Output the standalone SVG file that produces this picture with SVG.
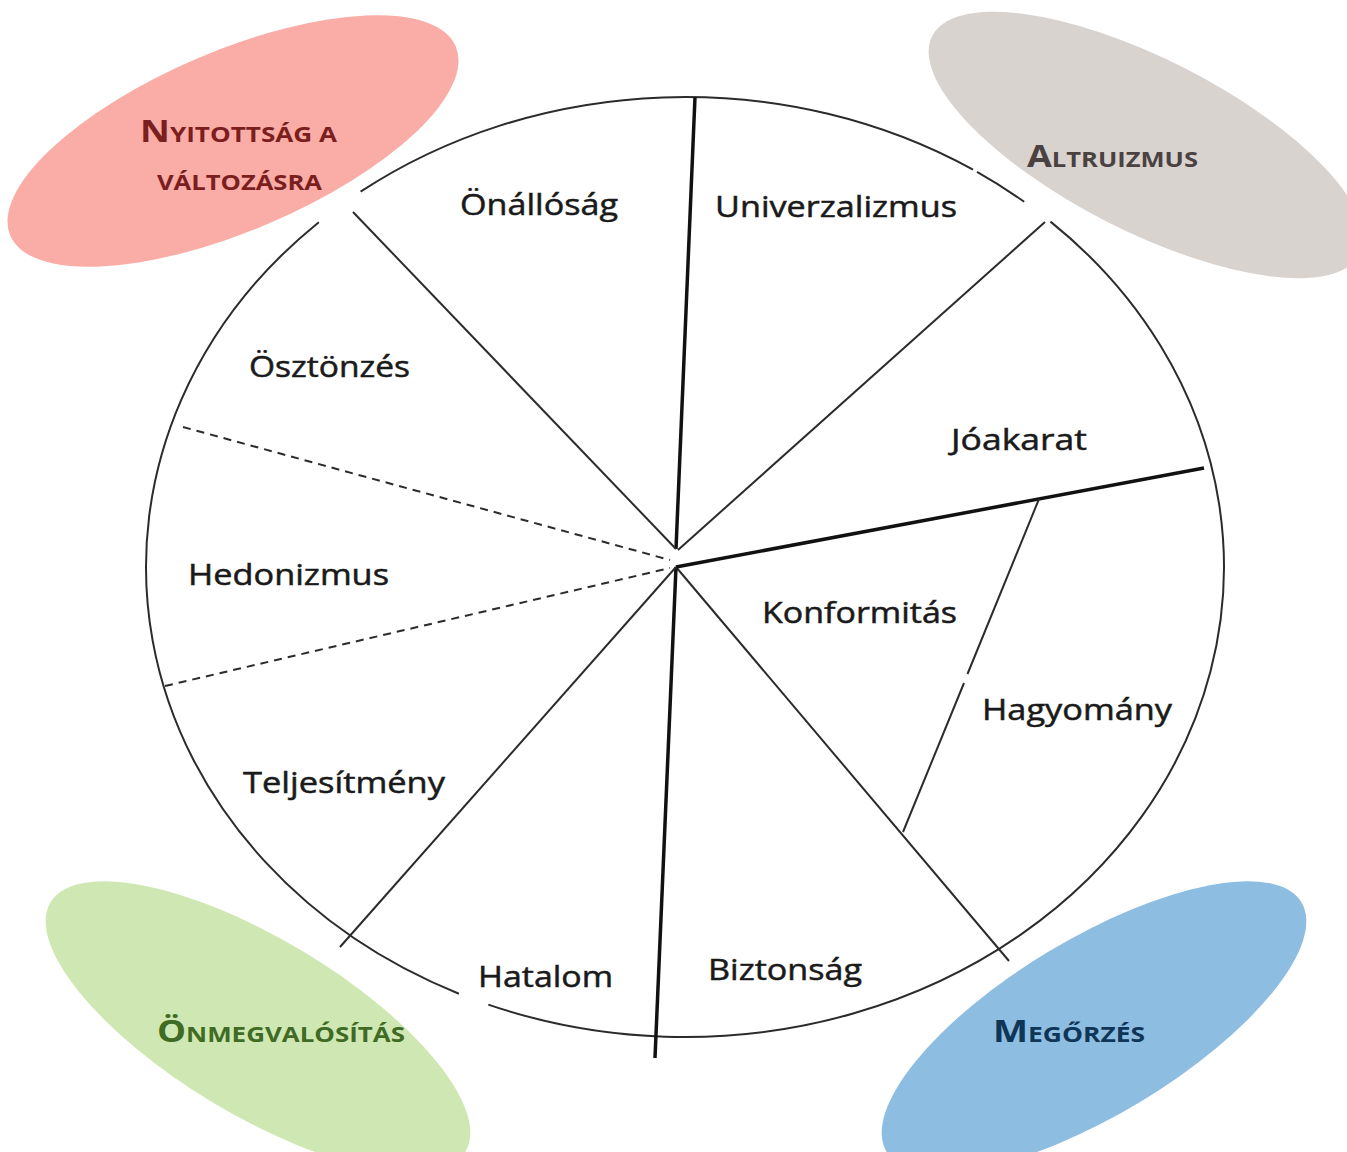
<svg xmlns="http://www.w3.org/2000/svg" width="1347" height="1152" viewBox="0 0 1347 1152">
<style>
.lbl{font-family:"Open Sans","Liberation Sans",sans-serif;font-size:29px;fill:#1a1a1a;stroke:#1a1a1a;stroke-width:0.5}
.cat{font-family:"Open Sans","Liberation Sans",sans-serif;font-weight:bold;font-size:22px}
.big{font-size:31px}
.ring{fill:none;stroke:#2b2b2b;stroke-width:2}
.thin{stroke:#2b2b2b;stroke-width:2;fill:none}
.thick{stroke:#111;stroke-width:3.5;fill:none}
.dash{stroke:#2b2b2b;stroke-width:2;stroke-dasharray:8 6;fill:none}
</style>
<rect width="1347" height="1152" fill="#fff"/>
<g id="open">
<ellipse cx="233" cy="141" rx="242" ry="90" transform="rotate(-23 233 141)" fill="#FAACA7"/>
<text class="cat" fill="#7A1E1E" x="140" y="142" textLength="197" lengthAdjust="spacingAndGlyphs"><tspan class="big">N</tspan>YITOTTSÁG A</text>
<text class="cat" fill="#7A1E1E" x="157" y="190" textLength="165" lengthAdjust="spacingAndGlyphs">VÁLTOZÁSRA</text>
</g>
<g id="altruism">
<ellipse cx="1146" cy="145" rx="240" ry="86" transform="rotate(27 1146 145)" fill="#D9D3D0"/>
<text class="cat" fill="#4A4141" x="1027" y="167" textLength="171" lengthAdjust="spacingAndGlyphs"><tspan class="big">A</tspan>LTRUIZMUS</text>
</g>
<g id="selfenh">
<ellipse cx="258" cy="1027" rx="242" ry="88" transform="rotate(31 258 1027)" fill="#CFE8B3"/>
<text class="cat" fill="#3F6B25" x="157" y="1042" textLength="248" lengthAdjust="spacingAndGlyphs"><tspan class="big">Ö</tspan>NMEGVALÓSÍTÁS</text>
</g>
<g id="conserv">
<ellipse cx="1094" cy="1027" rx="242" ry="88" transform="rotate(-31 1094 1027)" fill="#8EBDE2"/>
<text class="cat" fill="#0F3557" x="993" y="1042" textLength="152" lengthAdjust="spacingAndGlyphs"><tspan class="big">M</tspan>EGŐRZÉS</text>
</g>
<g id="connectors">
<path class="ring" d="M360.6 191.7 A539 470 0 0 1 973 169.7 M977 171.9 A539 470 0 0 1 1024.2 201.8 M1050.5 221.6 A539 470 0 0 1 488.3 1004.6 M458.9 993.7 A539 470 0 0 1 318.8 222.2"/>
<line class="thick" x1="695" y1="97" x2="676" y2="549"/>
<line class="thin" x1="353" y1="212" x2="676" y2="549"/>
<line class="thin" x1="1045" y1="222" x2="678" y2="550"/>
<line class="thick" x1="676" y1="567" x2="1204" y2="468"/>
<line class="thin" x1="1039" y1="499" x2="967.5" y2="674"/>
<line class="thin" x1="964" y1="683" x2="903" y2="832"/>
<line class="thin" x1="676" y1="567" x2="1009" y2="961"/>
<line class="thick" x1="676" y1="567" x2="655" y2="1058"/>
<line class="thin" x1="676" y1="567" x2="340" y2="947"/>
<line class="dash" x1="183" y1="427" x2="670" y2="560"/>
<line class="dash" x1="165" y1="686" x2="670" y2="568"/>
</g>
<g id="onallosag"><text class="lbl" x="460" y="215" textLength="158" lengthAdjust="spacingAndGlyphs">Önállóság</text></g>
<g id="univerzalizmus"><text class="lbl" x="715" y="217" textLength="242" lengthAdjust="spacingAndGlyphs">Univerzalizmus</text></g>
<g id="osztonzes"><text class="lbl" x="249" y="377" textLength="161" lengthAdjust="spacingAndGlyphs">Ösztönzés</text></g>
<g id="joakarat"><text class="lbl" x="951" y="450" textLength="136" lengthAdjust="spacingAndGlyphs">Jóakarat</text></g>
<g id="hedonizmus"><text class="lbl" x="188" y="585" textLength="201" lengthAdjust="spacingAndGlyphs">Hedonizmus</text></g>
<g id="konformitas"><text class="lbl" x="762" y="623" textLength="195" lengthAdjust="spacingAndGlyphs">Konformitás</text></g>
<g id="hagyomany"><text class="lbl" x="982" y="720" textLength="190" lengthAdjust="spacingAndGlyphs">Hagyomány</text></g>
<g id="teljesitmeny"><text class="lbl" x="243" y="793" textLength="202" lengthAdjust="spacingAndGlyphs">Teljesítmény</text></g>
<g id="hatalom"><text class="lbl" x="478" y="987" textLength="135" lengthAdjust="spacingAndGlyphs">Hatalom</text></g>
<g id="biztonsag"><text class="lbl" x="708" y="980" textLength="154" lengthAdjust="spacingAndGlyphs">Biztonság</text></g>
</svg>
